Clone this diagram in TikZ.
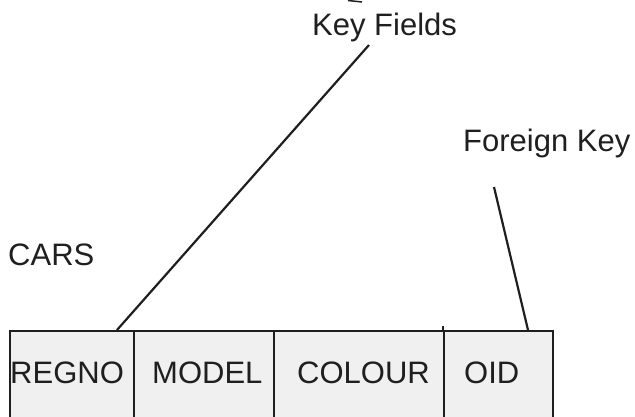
\documentclass[tikz,border=0pt]{standalone}
\usepackage{fontspec}
\setmainfont{Liberation Sans}
\begin{document}
\begin{tikzpicture}[x=1pt,y=-1pt,
  lbl/.style={anchor=base west, inner sep=0pt, text=black!88, font=\fontsize{31}{37}\selectfont},
  cell/.style={draw=black!88, line width=2.4pt, fill=black!6, anchor=north west, inner sep=0pt, minimum height=100pt},
  conn/.style={draw=black!88, line width=2.2pt}]
\useasboundingbox (0,0) rectangle (635,417);
% cells
\node[cell, minimum width=124pt] (c1) at (9,330) {};
\node[cell, minimum width=140pt] (c2) at (133,330) {};
\node[cell, minimum width=170pt] (c3) at (273,330) {};
\node[cell, minimum width=109pt] (c4) at (443,330) {};
\draw[conn, line width=2.4pt] (c4.north west) -- ++(0,-4);
% labels
\node[lbl] (cars) at (8,265) {CARS};
\node[lbl] (t1) at (10,383) {REGNO};
\node[lbl] (t2) at (152,383) {MODEL};
\node[lbl] (t3) at (297,383) {COLOUR};
\node[lbl] (t4) at (464,383) {OID};
\node[lbl] (kf) at (312,36) {Key Fields};
\node[lbl] (fk) at (463,152) {Foreign Key};
% connectors
\coordinate (kfend) at (369,45);
\coordinate (kfbase) at (117,330);
\coordinate (fkend) at (494,187);
\coordinate (fkbase) at (528,330);
\draw[conn] (kfend) -- (kfbase);
\draw[conn] (fkend) -- (fkbase);
\coordinate (topa) at (348,0.5);
\coordinate (topb) at (362,2);
\draw[conn, line width=1.5pt] (topa) -- (topb);
\end{tikzpicture}
\end{document}
